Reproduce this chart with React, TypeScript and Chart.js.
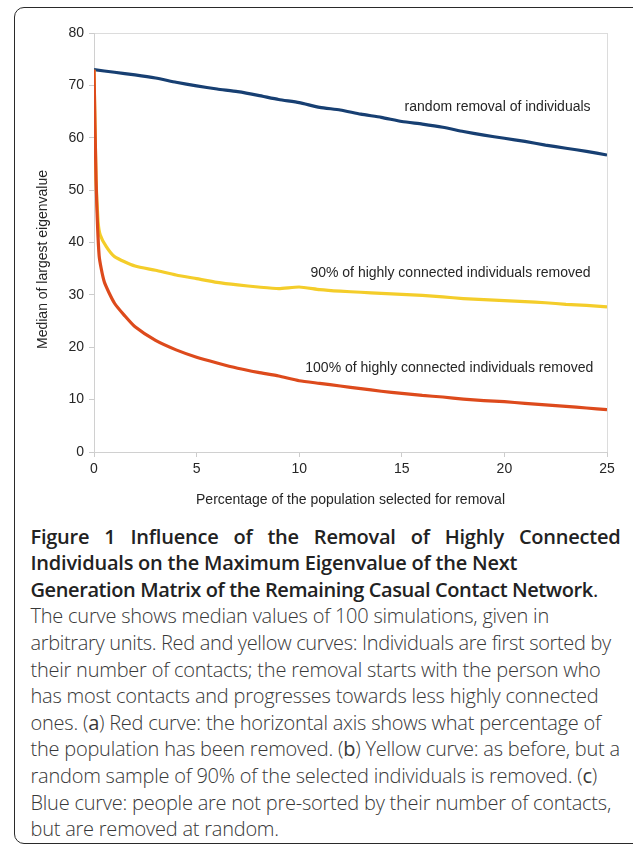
import React, { useEffect, useRef } from "react";
import { Chart, registerables } from "chart.js";

Chart.register(...registerables);

// ---- data ----
const X_TICK_VALUES = [0, 5, 10, 15, 20, 25];
const Y_TICK_VALUES = [0, 10, 20, 30, 40, 50, 60, 70, 80];

const BLUE_X = [0, 1, 2, 3, 4, 5, 6, 7, 8, 9, 10, 11, 12, 13, 14, 15, 16, 17, 18, 19, 20, 21, 22, 23, 24, 25];
const BLUE_Y = [73.0, 72.5, 72.0, 71.4, 70.6, 69.9, 69.3, 68.8, 68.1, 67.3, 66.7, 65.8, 65.3, 64.5, 63.9, 63.1, 62.6, 62.0, 61.2, 60.5, 59.9, 59.3, 58.6, 58.0, 57.4, 56.7];

const YELLOW_X = [0, 0.1, 0.2, 0.3, 0.6, 1, 2, 3, 4, 5, 6, 7, 8, 9, 10, 11, 12, 13, 14, 15, 16, 17, 18, 19, 20, 21, 22, 23, 24, 25];
const YELLOW_Y = [73, 52, 44, 41.5, 39.2, 37.3, 35.5, 34.7, 33.8, 33.1, 32.4, 31.9, 31.5, 31.2, 31.5, 31.0, 30.7, 30.5, 30.3, 30.1, 29.9, 29.6, 29.3, 29.1, 28.9, 28.7, 28.5, 28.2, 28.0, 27.7];

const RED_X = [0, 0.1, 0.25, 0.5, 1, 1.5, 2, 3, 4, 5, 6, 7, 8, 9, 10, 11, 12, 13, 14, 15, 16, 17, 18, 19, 20, 21, 22, 23, 24, 25];
const RED_Y = [73, 52, 37.5, 32.5, 28.4, 26.0, 23.9, 21.3, 19.5, 18.1, 17.0, 16.0, 15.2, 14.5, 13.6, 13.1, 12.6, 12.1, 11.6, 11.2, 10.8, 10.5, 10.1, 9.8, 9.6, 9.3, 9.0, 8.7, 8.4, 8.1];

const SERIES_NAMES = ["100% of highly connected individuals removed", "90% of highly connected individuals removed", "random removal of individuals"];
// anchor (right end) of each series label, in data units
const LABEL_ANCHOR_X = [24.33, 24.2, 24.2];
const LABEL_ANCHOR_Y = [16.0, 34.1, 65.8];

const X_TITLE = "Percentage of the population selected for removal";
const Y_TITLE = "Median of largest eigenvalue";

const CAPTION_TITLE_LINES = [
  "Figure 1 Influence of the Removal of Highly Connected",
  "Individuals on the Maximum Eigenvalue of the Next",
  "Generation Matrix of the Remaining Casual Contact Network",
];

const TICK_FONT = { family: "'Liberation Sans', Arial, sans-serif", size: 14 };
const SMALL_FONT = "14px 'Liberation Sans', Arial, sans-serif";

function ChartBox() {
  const ref = useRef<HTMLCanvasElement | null>(null);
  useEffect(() => {
    if (!ref.current) return;
    const toPts = (xs: number[], ys: number[]) => xs.map((x, i) => ({ x, y: ys[i] }));
    const labelPlugin = {
      id: "labels",
      afterDatasetsDraw(chart: any) {
        const { ctx, scales } = chart;
        ctx.save();
        ctx.fillStyle = "#262626";
        ctx.font = SMALL_FONT;
        ctx.textAlign = "right";
        ctx.textBaseline = "middle";
        SERIES_NAMES.forEach((name, i) => {
          ctx.fillText(name, scales.x.getPixelForValue(LABEL_ANCHOR_X[i]), scales.y.getPixelForValue(LABEL_ANCHOR_Y[i]));
        });
        // y axis title
        const ca = chart.chartArea;
        ctx.translate(ca.left - 51, (ca.top + ca.bottom) / 2 + 17);
        ctx.rotate(-Math.PI / 2);
        ctx.textAlign = "center";
        ctx.fillText(Y_TITLE, 0, 0);
        ctx.restore();
      },
    };
    const chart = new Chart(ref.current, {
      type: "line",
      data: {
        datasets: [
          { label: SERIES_NAMES[0], data: toPts(RED_X, RED_Y), borderColor: "#dd4a1c", borderWidth: 3.2, pointRadius: 0, tension: 0.2, borderJoinStyle: "round" },
          { label: SERIES_NAMES[1], data: toPts(YELLOW_X, YELLOW_Y), borderColor: "#f4cd2a", borderWidth: 3.2, pointRadius: 0, tension: 0.2, borderJoinStyle: "round" },
          { label: SERIES_NAMES[2], data: toPts(BLUE_X, BLUE_Y), borderColor: "#173f72", borderWidth: 3.2, pointRadius: 0, tension: 0.2, borderJoinStyle: "round" },
        ],
      } as any,
      options: {
        responsive: false,
        animation: false,
        devicePixelRatio: 1,
        layout: { padding: { left: 30, top: 33, right: 26, bottom: 0 } },
        plugins: { legend: { display: false }, tooltip: { enabled: false } },
        scales: {
          x: {
            type: "linear",
            min: 0,
            max: 25,
            afterBuildTicks: (s: any) => { s.ticks = X_TICK_VALUES.map((v) => ({ value: v })); },
            afterFit: (s: any) => { s.height = 68; },
            ticks: { font: TICK_FONT, color: "#262626", padding: 4, maxRotation: 0 },
            grid: {
              color: (c: any) => (c.tick && c.tick.value === 25 ? "#dcdcdc" : "rgba(0,0,0,0)"),
              tickColor: "#cccccc",
              tickLength: 5,
              lineWidth: 1,
            },
            border: { display: true, color: "#d0d0d0", width: 1 },
            title: { display: true, text: X_TITLE, color: "#262626", font: { family: "'Liberation Sans', Arial, sans-serif", size: 14 }, padding: { top: 0, bottom: 11.6 } },
          },
          y: {
            type: "linear",
            min: 0,
            max: 80,
            afterBuildTicks: (s: any) => { s.ticks = Y_TICK_VALUES.map((v) => ({ value: v })); },
            afterFit: (s: any) => { s.width = 64; },
            ticks: { font: TICK_FONT, color: "#262626", padding: 5 },
            grid: {
              color: (c: any) => (c.tick && c.tick.value === 80 ? "#dcdcdc" : "rgba(0,0,0,0)"),
              tickColor: "#cccccc",
              tickLength: 5,
              lineWidth: 1,
            },
            border: { display: true, color: "#d0d0d0", width: 1 },
          },
        },
      } as any,
      plugins: [labelPlugin],
    });
    return () => chart.destroy();
  }, []);
  return <canvas ref={ref} width={633} height={520} style={{ position: "absolute", left: 0, top: 0, width: 633, height: 520 }} />;
}

export default function App() {
  const lineStyle: React.CSSProperties = { height: 26.6, lineHeight: "26.6px", whiteSpace: "nowrap" };
  const titleStyle: React.CSSProperties = { ...lineStyle, fontWeight: 600, color: "#222", letterSpacing: "-0.23px" };
  return (
    <div style={{ position: "absolute", left: 0, top: 0, width: 633, height: 848, overflow: "hidden", background: "#fff" }}>
      <div style={{ position: "absolute", left: 13.5, top: 7, width: 700, height: 837, border: "1.5px solid #2a2a2a", borderRadius: 10, boxSizing: "border-box" }} />
      <ChartBox />
      <div style={{ position: "absolute", left: 30.5, top: 523.7, width: 590, fontFamily: "'Open Sans', sans-serif", fontSize: 20 }}>
        <div style={{ ...titleStyle, textAlign: "justify", textAlignLast: "justify" } as any}>{CAPTION_TITLE_LINES[0]}</div>
        <div style={titleStyle}>{CAPTION_TITLE_LINES[1]}</div>
        <div style={{ ...lineStyle, color: "#222", letterSpacing: "-0.4px" }}><span style={{ fontWeight: 600 }}>{CAPTION_TITLE_LINES[2]}</span>.</div>
        <div style={{ color: "#383838", letterSpacing: "-0.23px", fontWeight: 300 }}>
          <div style={lineStyle}>The curve shows median values of 100 simulations, given in</div>
          <div style={{ ...lineStyle, letterSpacing: "-0.33px" }}>arbitrary units. Red and yellow curves: Individuals are first sorted by</div>
          <div style={lineStyle}>their number of contacts; the removal starts with the person who</div>
          <div style={lineStyle}>has most contacts and progresses towards less highly connected</div>
          <div style={lineStyle}>ones. (<b>a</b>) Red curve: the horizontal axis shows what percentage of</div>
          <div style={lineStyle}>the population has been removed. (<b>b</b>) Yellow curve: as before, but a</div>
          <div style={lineStyle}>random sample of 90% of the selected individuals is removed. (<b>c</b>)</div>
          <div style={lineStyle}>Blue curve: people are not pre-sorted by their number of contacts,</div>
          <div style={lineStyle}>but are removed at random.</div>
        </div>
      </div>
    </div>
  );
}
